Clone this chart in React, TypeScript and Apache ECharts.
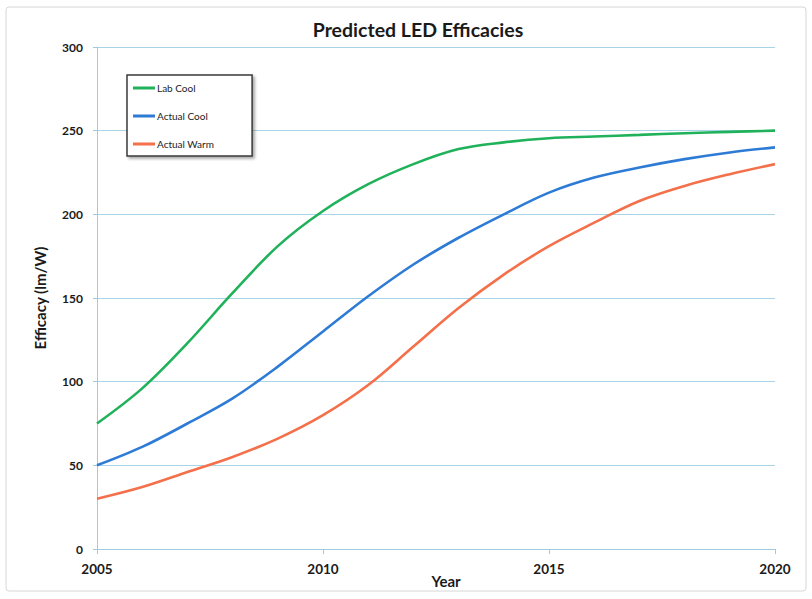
import React, { useEffect, useRef } from "react";
import * as echarts from "echarts";

const years = [2005, 2006, 2007, 2008, 2009, 2010, 2011, 2012, 2013, 2014, 2015, 2016, 2017, 2018, 2019, 2020];
const labCool = [75, 96, 123, 153, 181, 202, 218, 230, 239, 243, 245.5, 246.5, 247.5, 248.5, 249.3, 250];
const actualCool = [50, 61, 75, 90, 109, 130, 151, 170, 186, 200, 213, 222, 228, 233, 237, 240];
const actualWarm = [30, 37, 46, 55, 66, 80, 98, 121, 144, 164, 181, 195, 208, 217, 224, 230];
const seriesNames = ["Lab Cool", "Actual Cool", "Actual Warm"];
const seriesColors = ["#1fb25a", "#2e7bd6", "#f4704a"];

const font = "Lato, 'Open Sans', 'Liberation Sans', sans-serif";

export default function App() {
  const ref = useRef<HTMLDivElement>(null);
  useEffect(() => {
    if (!ref.current) return;
    const chart = echarts.init(ref.current, undefined, { renderer: "svg" });
    const data = [labCool, actualCool, actualWarm];
    chart.setOption({
      animation: false,
      backgroundColor: "#ffffff",
      title: {
        text: "Predicted LED Efficacies",
        left: 413,
        top: 14,
        textAlign: "center",
        textStyle: { fontFamily: font, fontSize: 19.5, fontWeight: "bold", color: "#1a1a1a" },
      },
      graphic: [
        {
          type: "rect",
          shape: { x: 6, y: 7, width: 800, height: 584, r: 3 },
          style: { fill: "none", stroke: "#d6d6d6", lineWidth: 1 },
          silent: true,
        },
      ],
      legend: {
        orient: "vertical",
        left: 127,
        top: 75,
        data: seriesNames,
        icon: "rect",
        itemWidth: 22,
        itemHeight: 3,
        itemGap: 18,
        padding: [8, 38, 7, 6],
        backgroundColor: "#ffffff",
        borderColor: "#3a3a3a",
        borderWidth: 1.5,
        shadowColor: "rgba(0,0,0,0.35)",
        shadowBlur: 3,
        shadowOffsetX: 2,
        shadowOffsetY: 2,
        textStyle: { fontFamily: font, fontSize: 10, color: "#222", padding: [0, 0, 0, -3] },
      },
      grid: { left: 97, right: 37, top: 47, bottom: 50, containLabel: false, outerBoundsMode: "none" },
      xAxis: {
        type: "value",
        min: 2005,
        max: 2020,
        interval: 5,
        name: "Year",
        nameLocation: "middle",
        nameGap: 24,
        nameMoveOverlap: false,
        nameTextStyle: { fontFamily: font, fontSize: 15, fontWeight: "bold", color: "#1a1a1a", padding: [0, 0, 0, 20] },
        axisLine: { show: true, lineStyle: { color: "#9fcbe0", width: 1 } },
        axisTick: { show: true, length: 5, lineStyle: { color: "#9fcbe0" } },
        axisLabel: {
          formatter: (v: number) => String(v),
          fontFamily: font,
          fontSize: 13.5,
          fontWeight: "bold",
          color: "#1a1a1a",
          margin: 13,
        },
        splitLine: { show: false },
      },
      yAxis: {
        type: "value",
        min: 0,
        max: 300,
        interval: 50,
        name: "Efficacy (lm/W)",
        nameLocation: "middle",
        nameGap: 50,
        nameMoveOverlap: false,
        nameRotate: 90,
        nameTextStyle: { fontFamily: font, fontSize: 15, fontWeight: "bold", color: "#1a1a1a" },
        axisLine: { show: true, lineStyle: { color: "#9fcbe0", width: 1 } },
        axisTick: { show: true, length: 4, lineStyle: { color: "#9fcbe0" } },
        axisLabel: { fontFamily: font, fontSize: 12, fontWeight: "bold", color: "#1a1a1a", margin: 14 },
        splitLine: { show: true, lineStyle: { color: "#a9d3e6", width: 1 } },
      },
      series: seriesNames.map((name, i) => ({
        name,
        type: "line",
        smooth: 0.35,
        showSymbol: false,
        symbol: "none",
        data: years.map((y, j) => [y, data[i][j]]),
        lineStyle: { color: seriesColors[i], width: 2.6 },
        itemStyle: { color: seriesColors[i] },
      })),
    });
    return () => chart.dispose();
  }, []);
  return <div ref={ref} style={{ width: 812, height: 599, position: "absolute", left: 0, top: 0 }} />;
}
